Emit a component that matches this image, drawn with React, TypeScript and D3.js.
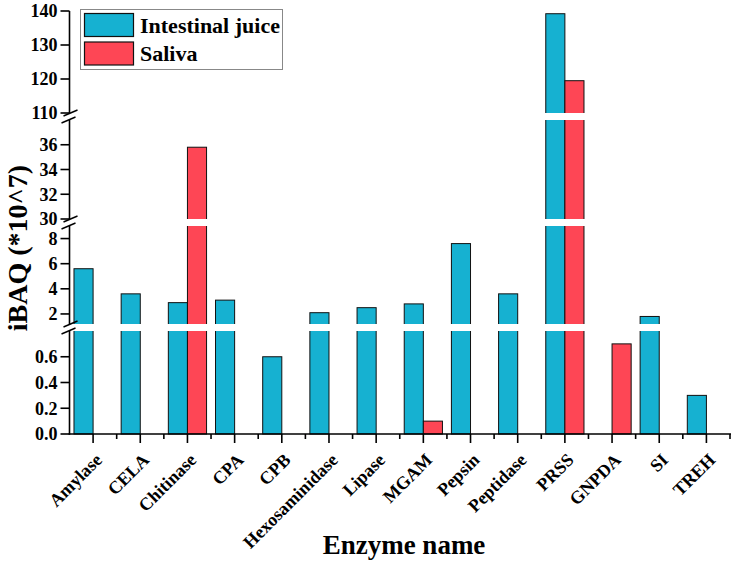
import React from "react";
import * as d3 from "d3";

const categories = ["Amylase", "CELA", "Chitinase", "CPA", "CPB", "Hexosaminidase", "Lipase", "MGAM", "Pepsin", "Peptidase", "PRSS", "GNPDA", "SI", "TREH"];
const intestinal = [5.6, 3.6, 2.9, 3.1, 0.6, 2.1, 2.5, 2.8, 7.6, 3.6, 139.2, 0, 1.8, 0.3];
const saliva = [0, 0, 35.8, 0, 0, 0, 0, 0.1, 0, 0, 119.5, 0.7, 0, 0];
const seriesNames = ["Intestinal juice", "Saliva"];
const colors = ["#16B1D1", "#FE4655"];

// axis segments (broken y axis)
const segDomains: [number, number][] = [[0, 0.8], [1.2, 9], [30, 38], [110, 140]];
const segRanges: [number, number][] = [[434, 331], [324, 226], [219, 120], [113, 11]];
const segTicks = [[0, 0.2, 0.4, 0.6], [2, 4, 6, 8], [30, 32, 34, 36], [110, 120, 130, 140]];
const segFormat = [".1f", "d", "d", "d"];

const W = 735, H = 562;
const x0 = 69.5, x1 = 730;
const serif = "'Liberation Serif', 'Times New Roman', serif";

export default function App() {
  const segs = segDomains.map((d, i) => d3.scaleLinear().domain(d).range(segRanges[i]));
  const y = (v: number) => {
    for (let i = 0; i < segs.length; i++) {
      const [a, b] = segDomains[i];
      if (v <= b) return segs[i](Math.max(v, a));
      if (i < segs.length - 1 && v < segDomains[i + 1][0]) return segs[i](b);
    }
    return segs[segs.length - 1](v);
  };
  const xb = d3.scaleBand().domain(categories).range([x0, x1]).padding(0);
  const bw = xb.bandwidth() * 0.405;
  const y0 = segRanges[0][0];

  const gaps = segRanges.slice(0, -1).map((r, i) => [segRanges[i + 1][0], r[1]]); // [top, bottom]

  const bars: JSX.Element[] = [];
  categories.forEach((c, i) => {
    const cx = (xb(c) as number) + xb.bandwidth() / 2;
    [intestinal[i], saliva[i]].forEach((v, s) => {
      if (v <= 0) return;
      const top = y(v);
      bars.push(
        <rect key={c + s} x={s === 0 ? cx - bw : cx} y={top} width={bw} height={y0 - top}
          fill={colors[s]} stroke="#111" strokeWidth={1} />
      );
    });
  });

  return (
    <svg width={W} height={H} style={{ position: "absolute", left: 0, top: 0, background: "#fff" }}>
      {bars}
      {gaps.map(([t, b], i) => (
        <rect key={"g" + i} x={x0 + 1} y={t} width={x1 - x0} height={b - t} fill="#fff" />
      ))}
      {/* y axis segments */}
      {segRanges.map((r, i) => (
        <line key={"ya" + i} x1={x0} x2={x0} y1={r[0] + (i === 0 ? 0.75 : 0)} y2={r[1]} stroke="#000" strokeWidth={1.6} />
      ))}
      {gaps.map(([t, b], i) => (
        <g key={"bk" + i}>
          <line x1={x0 - 8} x2={x0 + 6} y1={b + 3} y2={b - 3} stroke="#000" strokeWidth={1.4} />
          <line x1={x0 - 6} x2={x0 + 8} y1={t + 3} y2={t - 3} stroke="#000" strokeWidth={1.4} />
        </g>
      ))}
      {segTicks.map((ts, i) =>
        ts.map(t => (
          <g key={"t" + i + t} transform={`translate(0,${segs[i](t)})`}>
            <line x1={x0 - 9} x2={x0} stroke="#000" strokeWidth={1.6} />
            <text x={x0 - 12} dy="0.35em" textAnchor="end" fontFamily={serif} fontWeight="bold" fontSize={18}>
              {d3.format(segFormat[i])(t)}
            </text>
          </g>
        ))
      )}
      {/* x axis */}
      <line x1={x0 - 0.8} x2={x1 + 1} y1={y0} y2={y0} stroke="#000" strokeWidth={1.6} />
      {categories.map((c, i) => {
        const left = xb(c) as number;
        const cx = left + xb.bandwidth() / 2;
        return (
          <g key={"xt" + c}>
            {i > 0 && <line x1={left} x2={left} y1={y0} y2={y0 + 5} stroke="#000" strokeWidth={1.6} />}
            <line x1={cx} x2={cx} y1={y0} y2={y0 + 9} stroke="#000" strokeWidth={1.6} />
            <text transform={`translate(${cx + 10},${y0 + 27}) rotate(-45)`} textAnchor="end"
              fontFamily={serif} fontWeight="bold" fontSize={18}>{c}</text>
          </g>
        );
      })}
      <line x1={x1} x2={x1} y1={y0} y2={y0 + 5} stroke="#000" strokeWidth={1.6} />
      <text x={404} y={554} textAnchor="middle" fontFamily={serif} fontWeight="bold" fontSize={27}>Enzyme name</text>
      <text transform="translate(27,248) rotate(-90)" textAnchor="middle" fontFamily={serif} fontWeight="bold" fontSize={28}>iBAQ (*10^7)</text>
      {/* legend */}
      <rect x={80.5} y={9.5} width={202} height={60} fill="#fff" stroke="#888" strokeWidth={1} />
      {seriesNames.map((n, i) => (
        <g key={"lg" + i}>
          <rect x={84.5} y={13.5 + i * 28.5} width={49} height={23} fill={colors[i]} stroke="#111" strokeWidth={1.2} />
          <text x={140} y={25 + i * 28.5} dy="0.35em" fontFamily={serif} fontWeight="bold" fontSize={22}>{n}</text>
        </g>
      ))}
    </svg>
  );
}
